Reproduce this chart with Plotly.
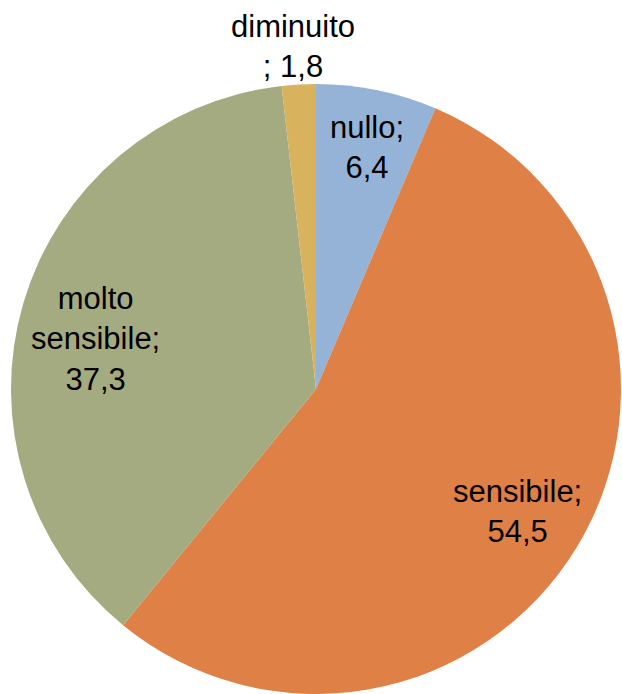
import plotly.graph_objects as go

labels = ["nullo", "sensibile", "molto sensibile", "diminuito"]
values = [6.4, 54.5, 37.3, 1.8]
colors = ["#95B3D7", "#DF8047", "#A5AB80", "#D8B25D"]
# display text (Italian decimal comma), with line breaks as in the reference
label_lines = ["nullo;<br>{v}", "sensibile;<br>{v}", "molto<br>sensibile;<br>{v}", "diminuito<br>; {v}"]
label_pos = [(367, 148), (517, 512), (95, 339), (293, 46)]  # pixel centres in the picture

W, H = 622, 694

fig = go.Figure(go.Pie(
    labels=labels,
    values=values,
    marker=dict(colors=colors, line=dict(width=0)),
    sort=False,
    direction="clockwise",
    rotation=0,
    textinfo="none",
    hoverinfo="label+value",
    showlegend=False,
    domain=dict(x=[11 / W, 621 / W], y=[0, 610 / H]),
))

for lab, v, (px, py) in zip(label_lines, values, label_pos):
    fig.add_annotation(
        x=px / W, y=1 - py / H, xref="paper", yref="paper",
        text=lab.format(v=str(v).replace(".", ",")),
        showarrow=False, xanchor="center", yanchor="middle",
        font=dict(family="Liberation Sans, Arial, sans-serif", size=31, color="#000000"),
    )

fig.update_layout(
    width=W, height=H,
    margin=dict(l=0, r=0, t=0, b=0),
    paper_bgcolor="white", plot_bgcolor="white",
)

fig.write_html(
    "out.html",
    config={"displayModeBar": False},
    post_script=(
        "document.documentElement.style.overflow='hidden';"
        "document.body.style.margin='0';"
        "document.body.style.overflow='hidden';"
    ),
)
